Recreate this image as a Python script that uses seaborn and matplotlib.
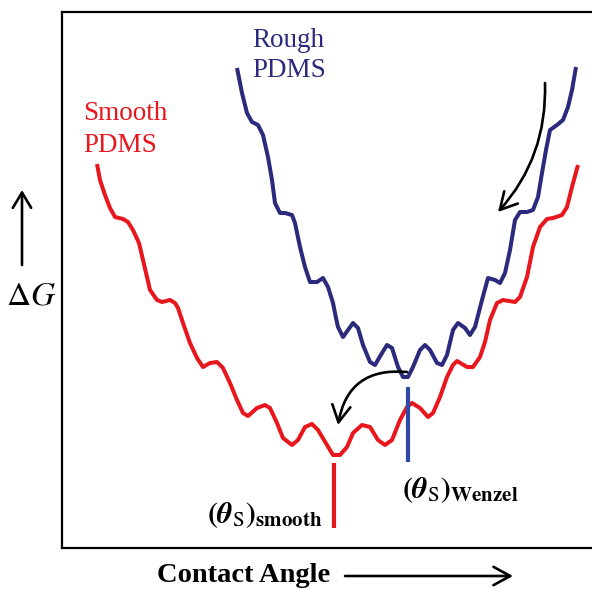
import matplotlib
matplotlib.use("Agg")
import matplotlib.pyplot as plt
import seaborn as sns
import pandas as pd

# Free-energy profiles versus contact angle (arbitrary units)
smooth_angle = [35, 38, 43, 48, 53, 61, 66, 71, 77, 81, 85, 88, 95, 100, 108, 113, 116,
                121, 128, 135, 141, 148, 155, 161, 168, 175, 181, 186, 195, 203, 208, 215,
                221, 230, 236, 243, 250, 256, 265, 271, 278, 285, 291, 300, 308, 316, 323,
                330, 338, 345, 350, 358, 366, 371, 378, 385, 391, 395, 405, 411, 418, 423,
                428, 435, 441, 453, 458, 465, 471, 478, 485, 491, 500, 505, 510, 516]
smooth_energy = [384, 368, 353, 340, 331, 329, 326, 318, 305, 288, 271, 258, 248, 246, 248,
                 245, 240, 225, 205, 190, 181, 185, 186, 180, 165, 148, 135, 132, 140, 143,
                 140, 125, 110, 103, 108, 121, 124, 118, 103, 93, 93, 101, 115, 123, 121,
                 108, 103, 108, 128, 141, 145, 140, 131, 135, 151, 171, 183, 187, 181, 181,
                 191, 206, 228, 245, 248, 246, 251, 271, 301, 321, 329, 330, 333, 341, 361,
                 383]

rough_angle = [175, 180, 185, 190, 196, 201, 206, 210, 213, 218, 223, 230, 233, 238, 243,
               248, 255, 261, 266, 271, 274, 276, 281, 286, 291, 296, 301, 308, 313, 320,
               325, 330, 336, 341, 346, 351, 358, 363, 368, 375, 380, 385, 391, 396, 403,
               408, 413, 420, 426, 433, 438, 443, 448, 453, 458, 465, 471, 476, 480, 484,
               488, 495, 501, 506, 510, 514]
rough_energy = [480, 455, 435, 426, 423, 413, 391, 368, 345, 335, 335, 333, 325, 301, 281,
                266, 266, 270, 261, 245, 230, 221, 211, 218, 225, 220, 203, 186, 183, 195,
                203, 200, 181, 171, 171, 181, 198, 203, 198, 185, 183, 193, 218, 225, 220,
                213, 221, 248, 270, 268, 265, 275, 298, 328, 336, 336, 338, 351, 375, 398,
                418, 423, 428, 441, 458, 481]

# Equilibrium contact-angle markers: (angle, lower, upper)
theta_smooth = (272, 20, 85)
theta_wenzel = (346, 86, 161)

RED = "#e8161d"
NAVY = "#2c2a7c"
BLUE = "#2f4aa6"

sns.set_theme(style="white")
plt.rcParams["font.family"] = ["Liberation Serif", "DejaVu Serif"]
plt.rcParams["mathtext.fontset"] = "stix"
plt.rcParams["text.color"] = "black"

fig = plt.figure(figsize=(5.92, 5.89), dpi=100)
ax = fig.add_axes([62 / 592, 41 / 589, 530 / 592, 536 / 589])

smooth = pd.DataFrame({"angle": smooth_angle, "energy": smooth_energy})
rough = pd.DataFrame({"angle": rough_angle, "energy": rough_energy})

sns.lineplot(data=smooth, x="angle", y="energy", sort=False, estimator=None,
             color=RED, lw=2.9, ax=ax, solid_joinstyle="round", solid_capstyle="butt")
sns.lineplot(data=rough, x="angle", y="energy", sort=False, estimator=None,
             color=NAVY, lw=2.9, ax=ax, solid_joinstyle="round", solid_capstyle="butt")

ax.vlines(theta_smooth[0], theta_smooth[1], theta_smooth[2], color=RED, lw=3.0)
ax.vlines(theta_wenzel[0], theta_wenzel[1], theta_wenzel[2], color=BLUE, lw=3.0)

ax.set_xlim(0, 530)
ax.set_ylim(0, 536)
ax.set_xticks([])
ax.set_yticks([])
ax.set_xlabel("")
ax.set_ylabel("")
for side in ("left", "top", "bottom"):
    ax.spines[side].set_visible(True)
    ax.spines[side].set_color("black")
    ax.spines[side].set_linewidth(1.6)
ax.spines["right"].set_visible(False)

# Curve labels
ax.text(21, 428, "Smooth", color=RED, fontsize=19.5, ha="left", va="baseline")
ax.text(21, 396, "PDMS", color=RED, fontsize=19.5, ha="left", va="baseline")
ax.text(190, 501, "Rough", color=NAVY, fontsize=19.5, ha="left", va="baseline")
ax.text(190, 471, "PDMS", color=NAVY, fontsize=19.5, ha="left", va="baseline")

# Transition arrows
arrow_kw = dict(arrowstyle="->,head_length=0.55,head_width=0.3", color="black",
                lw=1.9, shrinkA=0, shrinkB=0, mutation_scale=22)
ax.annotate("", xy=(436, 336), xytext=(483, 465),
            arrowprops=dict(connectionstyle="arc3,rad=-0.2", **arrow_kw))
ax.annotate("", xy=(276, 123), xytext=(345, 176),
            arrowprops=dict(connectionstyle="arc3,rad=0.46", **arrow_kw))

# Angle annotations
ax.text(145, 25, r"$\mathbf{(}\boldsymbol{\theta}_{\mathrm{S}}\mathbf{)}_{\mathbf{smooth}}$",
        fontsize=21.5, ha="left", va="baseline", clip_on=False)
ax.text(340, 50, r"$\mathbf{(}\boldsymbol{\theta}_{\mathrm{S}}\mathbf{)}_{\mathbf{Wenzel}}$",
        fontsize=21.5, ha="left", va="baseline", clip_on=False)

# Axis captions with direction arrows
ax.text(-31, 252, r"$\Delta G$", fontsize=24, ha="center", va="center", clip_on=False)
ax.annotate("", xy=(-40, 358), xytext=(-40, 283), annotation_clip=False,
            arrowprops=dict(arrowstyle="->,head_length=0.5,head_width=0.3", color="black",
                            lw=1.9, shrinkA=0, shrinkB=0, mutation_scale=22))
ax.text(95, -34, "Contact Angle", fontsize=20.5, fontweight="bold", ha="left",
        va="baseline", clip_on=False)
ax.annotate("", xy=(451, -28), xytext=(283, -28), annotation_clip=False,
            arrowprops=dict(arrowstyle="->,head_length=0.55,head_width=0.3", color="black",
                            lw=1.9, shrinkA=0, shrinkB=0, mutation_scale=22))

fig.savefig("out.png", dpi=100)
